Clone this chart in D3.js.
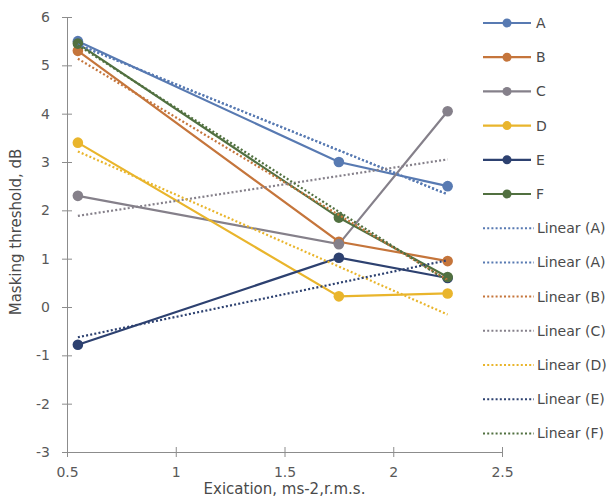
<!DOCTYPE html>
<html lang="en">
<head>
  <meta charset="UTF-8">
  <title>Masking threshold</title>
  <script src="https://d3js.org/d3.v7.min.js"></script>
  <style>
    body { margin: 0; background: #fff; }
    svg { font-family: "DejaVu Sans", sans-serif; }
    .axis text { fill: #595959; font-size: 14px; font-family: "DejaVu Sans", sans-serif; }
    .axis path, .axis line { stroke: #8c8c8c; }
    .title { fill: #4a4a4a; font-size: 15px; }
    .legend text { fill: #4a4a4a; font-size: 14px; }
  </style>
</head>
<body>
  <svg width="607" height="497"></svg>

  <script>
    // data
    const xValues = [0.55, 1.75, 2.25];
    const seriesNames = ['A', 'B', 'C', 'D', 'E', 'F'];
    const valuesA = [5.5, 3.0, 2.5];
    const valuesB = [5.3, 1.35, 0.95];
    const valuesC = [2.3, 1.3, 4.05];
    const valuesD = [3.4, 0.22, 0.28];
    const valuesE = [-0.78, 1.02, 0.6];
    const valuesF = [5.45, 1.85, 0.62];
    const trendNames = ['Linear (A)', 'Linear (A)', 'Linear (B)', 'Linear (C)', 'Linear (D)', 'Linear (E)', 'Linear (F)'];
    const trendSource = ['A', 'A', 'B', 'C', 'D', 'E', 'F'];
    const xTicks = [0.5, 1, 1.5, 2, 2.5];
    const yTicks = [-3, -2, -1, 0, 1, 2, 3, 4, 5, 6];

    const allValues = [valuesA, valuesB, valuesC, valuesD, valuesE, valuesF];
    const colors = {
      A: '#587ab2', B: '#c5753b', C: '#85808a', D: '#e9b52c', E: '#2d4170', F: '#517040'
    };

    const series = seriesNames.map((name, i) => ({
      name: name,
      points: xValues.map((x, j) => ({ x: x, y: allValues[i][j] }))
    }));

    // least squares trend line over the data range
    function linearFit(points) {
      const mx = d3.mean(points, d => d.x);
      const my = d3.mean(points, d => d.y);
      const sxy = d3.sum(points, d => (d.x - mx) * (d.y - my));
      const sxx = d3.sum(points, d => (d.x - mx) * (d.x - mx));
      const slope = sxy / sxx;
      const x0 = d3.min(points, d => d.x), x1 = d3.max(points, d => d.x);
      return [
        { x: x0, y: my + slope * (x0 - mx) },
        { x: x1, y: my + slope * (x1 - mx) }
      ];
    }

    const trends = trendSource.map((s, i) => ({
      name: trendNames[i],
      source: s,
      points: linearFit(series.find(d => d.name === s).points)
    }));

    const svg = d3.select('svg');
    const margin = { top: 17, left: 67 };
    const width = 435;
    const height = 435;

    const g = svg.append('g').attr('transform', `translate(${margin.left},${margin.top})`);

    const x = d3.scaleLinear().domain([0.5, 2.5]).range([0, width]);
    const y = d3.scaleLinear().domain([-3, 6]).range([height, 0]);

    const plainNum = d => String(d); // hyphen minus like the original

    // axes with ticks crossing the line
    const xAxis = g.append('g')
      .attr('class', 'axis')
      .attr('transform', `translate(0,${height})`)
      .call(d3.axisBottom(x).tickValues(xTicks).tickFormat(plainNum).tickSizeInner(5).tickSizeOuter(0).tickPadding(10));
    xAxis.selectAll('.tick line').attr('y1', -5);
    xAxis.select('.domain').attr('d', `M0,0.5H${width}`);

    const yAxis = g.append('g')
      .attr('class', 'axis')
      .call(d3.axisLeft(y).tickValues(yTicks).tickFormat(plainNum).tickSizeInner(5).tickSizeOuter(0).tickPadding(12));
    yAxis.selectAll('.tick line').attr('x1', 5);
    yAxis.select('.domain').attr('d', `M0.5,0V${height}`);

    const line = d3.line().x(d => x(d.x)).y(d => y(d.y));

    // series lines
    g.selectAll('.series')
      .data(series)
      .enter().append('path')
      .attr('class', 'series')
      .attr('d', d => line(d.points))
      .attr('fill', 'none')
      .attr('stroke', d => colors[d.name])
      .attr('stroke-width', 2.2);

    // markers
    series.forEach(s => {
      g.selectAll('.m' + s.name)
        .data(s.points)
        .enter().append('circle')
        .attr('cx', d => x(d.x))
        .attr('cy', d => y(d.y))
        .attr('r', 5.3)
        .attr('fill', colors[s.name]);
    });

    // dotted trend lines
    g.selectAll('.trend')
      .data(trends)
      .enter().append('path')
      .attr('class', 'trend')
      .attr('d', d => line(d.points))
      .attr('fill', 'none')
      .attr('stroke', d => colors[d.source])
      .attr('stroke-width', 2.2)
      .attr('stroke-dasharray', '2,2.2');

    // axis titles
    svg.append('text')
      .attr('class', 'title')
      .attr('x', margin.left + width / 2)
      .attr('y', 494)
      .attr('text-anchor', 'middle')
      .text('Exication, ms-2,r.m.s.');

    svg.append('text')
      .attr('class', 'title')
      .attr('transform', 'translate(21,232) rotate(-90)')
      .attr('text-anchor', 'middle')
      .text('Masking threshold, dB');

    // legend
    const legendItems = series.map(d => ({ label: d.name, color: colors[d.name], trend: false }))
      .concat(trends.map(d => ({ label: d.name, color: colors[d.source], trend: true })));

    const legend = svg.append('g').attr('class', 'legend');
    const rows = legend.selectAll('g')
      .data(legendItems)
      .enter().append('g')
      .attr('transform', (d, i) => `translate(483,${23 + i * 34.2})`);

    rows.append('line')
      .attr('x1', 0).attr('x2', d => d.trend ? 51 : 48)
      .attr('stroke', d => d.color)
      .attr('stroke-width', d => d.trend ? 2 : 2.2)
      .attr('stroke-dasharray', d => d.trend ? '2,2.2' : null);

    rows.filter(d => !d.trend).append('circle')
      .attr('cx', 24)
      .attr('r', 4.5)
      .attr('fill', d => d.color);

    rows.append('text')
      .attr('x', d => d.trend ? 54 : 53)
      .attr('dy', '0.35em')
      .text(d => d.label);
  </script>
</body>
</html>
